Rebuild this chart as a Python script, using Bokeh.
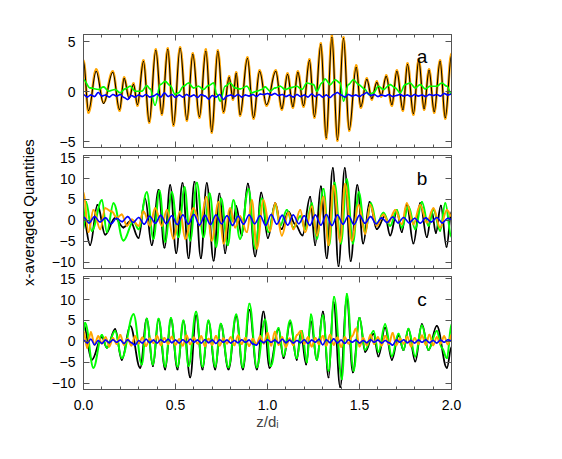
import math
from bokeh.plotting import figure
from bokeh.layouts import column, row
from bokeh.models import (Range1d, FixedTicker, LinearAxis, CustomJSTickFormatter,
                          Label, ColumnDataSource)
from bokeh.embed import file_html
from bokeh.resources import INLINE

# ---------------- data ----------------
GRID_X = [0.00, 0.02, 0.04, 0.06, 0.08, 0.10, 0.12, 0.14, 0.16, 0.18,
          0.20, 0.22, 0.24, 0.26, 0.28, 0.30, 0.32, 0.34, 0.36, 0.38,
          0.40, 0.42, 0.44, 0.46, 0.48, 0.50, 0.52, 0.54, 0.56, 0.58,
          0.60, 0.62, 0.64, 0.66, 0.68, 0.70, 0.72, 0.74, 0.76, 0.78,
          0.80, 0.82, 0.84, 0.86, 0.88, 0.90, 0.92, 0.94, 0.96, 0.98,
          1.00, 1.02, 1.04, 1.06, 1.08, 1.10, 1.12, 1.14, 1.16, 1.18,
          1.20, 1.22, 1.24, 1.26, 1.28, 1.30, 1.32, 1.34, 1.36, 1.38,
          1.40, 1.42, 1.44, 1.46, 1.48, 1.50, 1.52, 1.54, 1.56, 1.58,
          1.60, 1.62, 1.64, 1.66, 1.68, 1.70, 1.72, 1.74, 1.76, 1.78,
          1.80, 1.82, 1.84, 1.86, 1.88, 1.90, 1.92, 1.94, 1.96, 1.98,
          2.00]

GRID_B = [0.00, 0.03, 0.06, 0.09, 0.12, 0.15, 0.18, 0.21, 0.24, 0.27,
          0.30, 0.33, 0.36, 0.39, 0.42, 0.45, 0.48, 0.51, 0.54, 0.57,
          0.60, 0.63, 0.66, 0.69, 0.72, 0.75, 0.78, 0.81, 0.84, 0.87,
          0.90, 0.93, 0.96, 0.99, 1.02, 1.05, 1.08, 1.11, 1.14, 1.17,
          1.20, 1.23, 1.26, 1.29, 1.32, 1.35, 1.38, 1.41, 1.44, 1.47,
          1.50, 1.53, 1.56, 1.59, 1.62, 1.65, 1.68, 1.71, 1.74, 1.77,
          1.80, 1.83, 1.86, 1.89, 1.92, 1.95, 1.98, 2.00]

# panel a
A_OR_X = [0.000, 0.027, 0.069, 0.109, 0.159, 0.196, 0.221, 0.248, 0.272, 0.293,
          0.326, 0.357, 0.393, 0.426, 0.458, 0.489, 0.525, 0.562, 0.594, 0.630,
          0.665, 0.697, 0.730, 0.761, 0.792, 0.812, 0.830, 0.851, 0.891, 0.924,
          0.957, 0.995, 1.045, 1.078, 1.109, 1.138, 1.165, 1.196, 1.228, 1.255,
          1.290, 1.319, 1.350, 1.380, 1.413, 1.444, 1.482, 1.507, 1.540, 1.567,
          1.594, 1.618, 1.645, 1.676, 1.703, 1.736, 1.761, 1.793, 1.822, 1.851,
          1.878, 1.906, 1.938, 1.966, 2.000]
A_OR_Y = [3.1, -2.1, 2.2, -1.1, 2.0, -1.9, 1.4, -0.6, 0.8, -1.4,
          3.1, -3.1, 4.2, -2.3, 4.3, -3.4, 4.4, -2.9, 3.8, -2.6,
          4.2, -4.1, 4.1, -2.1, 1.5, -0.8, 1.9, -2.4, 3.4, -2.7,
          2.1, -1.4, 2.1, -1.8, 1.8, -1.6, 2.0, -1.5, 3.2, -2.6,
          4.8, -4.7, 5.6, -4.9, 5.4, -3.9, 2.6, -1.6, 1.3, -0.8,
          1.0, -0.5, 1.6, -1.4, 2.1, -1.9, 2.8, -2.3, 3.2, -1.8,
          2.2, -2.1, 3.1, -2.7, 3.8]
A_BK_Y = [3.0, -1.9, 2.0, -1.2, 1.9, -1.8, 1.3, -0.7, 0.7, -1.3,
          3.0, -3.0, 4.1, -2.2, 4.2, -3.3, 4.3, -2.8, 3.7, -2.5,
          4.0, -4.0, 4.0, -2.0, 1.4, -0.7, 1.8, -2.3, 3.3, -2.6,
          2.0, -1.3, 2.0, -1.7, 1.7, -1.5, 1.9, -1.4, 3.1, -2.5,
          4.7, -4.6, 5.4, -4.8, 5.3, -3.8, 2.4, -1.5, 1.2, -0.7,
          0.9, -0.4, 1.5, -1.3, 2.0, -1.8, 2.7, -2.2, 3.1, -1.7,
          2.1, -2.0, 3.0, -2.6, 3.6]
A_GR_X = [0.000, 0.036, 0.082, 0.109, 0.136, 0.172, 0.199, 0.226, 0.254, 0.281,
          0.317, 0.344, 0.362, 0.389, 0.417, 0.444, 0.471, 0.498, 0.516, 0.543,
          0.571, 0.598, 0.625, 0.652, 0.679, 0.707, 0.725, 0.743, 0.770, 0.797,
          0.824, 0.851, 0.888, 0.915, 0.942, 0.969, 0.987, 1.014, 1.042, 1.069,
          1.096, 1.123, 1.159, 1.187, 1.214, 1.250, 1.268, 1.295, 1.313, 1.341,
          1.368, 1.395, 1.413, 1.440, 1.467, 1.495, 1.531, 1.549, 1.576, 1.603,
          1.630, 1.667, 1.694, 1.721, 1.748, 1.775, 1.803, 1.830, 1.857, 1.884,
          1.920, 1.947, 1.975, 2.000]
A_GR_Y = [1.18, 0.36, 0.2, 0.46, 0.03, 0.2, -0.13, 0.26, 0.52, 0.03,
          0.03, 0.59, 0.26, -1.37, 0.69, 1.01, 0.59, -0.29, -0.13, 0.52,
          0.85, 0.36, 0.52, 0.2, 0.59, 0.85, -0.29, -0.95, 0.52, 0.85,
          0.36, 0.26, 0.52, -0.13, 0.03, 0.2, 0.46, 0.03, 0.36, 0.52,
          0.2, 0.36, 0.52, 0.2, 0.85, 0.69, 0.03, 0.85, 1.24, 0.69,
          1.18, 0.85, -0.95, 0.69, 1.18, 0.69, 0.2, -0.29, -0.13, 0.52,
          0.2, 0.69, 0.36, -0.13, 0.69, 0.85, 0.36, 0.69, 0.26, 0.52,
          0.52, 0.85, 0.52, -0.29]
A_BL_Y = [-0.30, -0.55, -0.35, -0.50, -0.10, -0.45, -0.35, -0.55, -0.30, -0.45,
          -0.30, -0.60, -0.80, -0.40, -0.55, -0.35, -0.50, -0.30, -0.55, -0.45,
          -0.25, -0.55, -0.15, -0.50, -0.30, -0.60, -0.35, -0.55, -0.30, -0.50,
          -0.35, -0.60, -0.30, -0.45, -0.75, -0.40, -0.55, -0.30, -0.80, -0.45,
          -0.35, -0.50, -0.30, -0.55, -0.35, -0.45, -0.30, -0.50, -0.25, -0.30,
          -0.20, -0.35, -0.20, -0.40, -0.30, -0.50, -0.35, -0.55, -0.30, -0.50,
          -0.35, -0.55, -0.25, -0.50, -0.30, -0.55, -0.35, -0.60, -0.30, -0.10,
          -0.35, -0.55, -0.30, -0.45, -0.35, -0.50, -0.30, -0.10, -0.40, -0.30,
          -0.50, -0.35, -0.45, -0.30, -0.50, -0.40, -0.30, -0.45, -0.35, -0.50,
          -0.30, -0.45, -0.35, -0.50, -0.30, -0.40, -0.30, -0.45, -0.20, -0.35,
          -0.25]

# panel b
B_BK_X = [0.000, 0.036, 0.076, 0.118, 0.172, 0.217, 0.254, 0.299, 0.335, 0.371,
          0.408, 0.440, 0.471, 0.504, 0.538, 0.571, 0.603, 0.638, 0.670, 0.707,
          0.739, 0.770, 0.797, 0.815, 0.830, 0.860, 0.893, 0.933, 0.966, 1.002,
          1.042, 1.076, 1.114, 1.150, 1.190, 1.232, 1.259, 1.290, 1.322, 1.355,
          1.386, 1.420, 1.452, 1.488, 1.520, 1.555, 1.594, 1.639, 1.667, 1.703,
          1.730, 1.757, 1.793, 1.830, 1.866, 1.893, 1.915, 1.942, 1.973, 2.000]
B_BK_Y = [0.6, -5.9, 3.7, -3.4, 0.6, -1.7, -0.2, -4.2, 5.2, -5.9,
          7.3, -6.5, 8.4, -7.8, 8.9, -9.0, 9.2, -9.0, 8.9, -9.6,
          6.4, -7.8, 2.5, -0.2, 3.4, -3.6, 8.8, -8.6, 6.6, -4.2,
          4.1, -2.1, 2.1, -0.9, -3.6, 5.6, -5.9, 8.1, -9.0, 12.5,
          -10.9, 12.5, -9.7, 8.4, -5.5, 4.4, -2.1, 1.0, -3.6, 2.1,
          -2.8, 3.7, -5.5, 4.1, -4.0, 2.1, -3.0, 3.5, -6.3, 2.1]
B_GR_X = [0.000, 0.014, 0.045, 0.100, 0.127, 0.163, 0.217, 0.272, 0.299, 0.344,
          0.380, 0.413, 0.444, 0.480, 0.516, 0.549, 0.580, 0.616, 0.652, 0.685,
          0.721, 0.748, 0.784, 0.815, 0.851, 0.897, 0.933, 0.969, 1.005, 1.042,
          1.069, 1.105, 1.141, 1.178, 1.205, 1.241, 1.268, 1.304, 1.335, 1.364,
          1.399, 1.431, 1.464, 1.496, 1.531, 1.562, 1.594, 1.630, 1.667, 1.703,
          1.730, 1.766, 1.803, 1.839, 1.875, 1.902, 1.938, 1.966, 2.000]
B_GR_Y = [-2.1, 4.4, -2.5, 4.8, -2.8, 4.1, -4.8, -0.2, -2.1, 6.7,
          -4.4, 7.1, -5.1, 6.7, -4.0, 7.9, -4.8, 9.0, -4.0, 6.4,
          -6.3, 5.2, -5.9, 4.8, -4.4, 7.5, -6.7, 5.2, -2.8, 3.7,
          -1.3, 2.5, -1.7, 1.0, -2.1, 4.1, -4.4, 7.5, -5.9, 9.0,
          -5.5, 9.8, -5.5, 6.7, -2.8, 4.1, -0.9, 1.8, -1.3, 2.5,
          -1.7, 3.3, -2.1, 4.4, -1.3, 2.5, -2.5, 4.1, -4.0]
B_OR_X = [0.000, 0.027, 0.054, 0.091, 0.118, 0.154, 0.181, 0.208, 0.236, 0.263,
          0.299, 0.326, 0.362, 0.389, 0.426, 0.453, 0.489, 0.525, 0.553, 0.598,
          0.634, 0.667, 0.697, 0.734, 0.761, 0.797, 0.824, 0.851, 0.888, 0.915,
          0.942, 0.978, 1.014, 1.042, 1.078, 1.114, 1.141, 1.178, 1.205, 1.241,
          1.268, 1.304, 1.332, 1.359, 1.395, 1.422, 1.458, 1.495, 1.531, 1.558,
          1.594, 1.630, 1.658, 1.694, 1.730, 1.757, 1.793, 1.830, 1.866, 1.902,
          1.938, 1.975, 2.000]
B_OR_Y = [6.7, -2.8, 2.5, -2.1, 2.9, 2.1, 0.6, 1.4, -1.3, 0.2,
          -1.3, 2.1, -1.3, 2.9, -1.3, 2.5, -4.4, 2.1, -4.4, 2.9,
          -1.3, 5.6, -4.8, 4.4, -5.5, 2.9, -1.7, 1.0, -2.8, 4.8,
          -6.7, 4.8, -2.5, 4.1, -3.6, 1.8, -2.1, 2.5, -2.8, 3.3,
          -3.6, 5.6, -5.9, 8.3, -5.1, 8.7, -4.8, 3.7, -3.2, 3.7,
          -1.3, 1.4, -0.5, 2.5, -0.9, 4.1, -0.9, 3.7, -0.5, 2.9,
          -1.7, 2.5, 1.0]
B_BL_Y = [0.8, -0.6, 0.9, -0.4, 0.6, -0.8, 0.5, -0.3, 0.9, -0.5,
          0.7, -0.9, 1.0, -0.7, 1.2, -0.8, 1.1, -1.0, 1.3, -0.9,
          1.4, -1.1, 1.2, -1.0, 1.3, -0.8, 1.1, -1.2, 1.0, -0.9,
          1.3, -0.8, 1.1, -1.2, 1.4, -0.9, 1.2, -1.1, 1.3, -0.8,
          1.1, -1.2, 1.3, -1.1, 1.4, -1.2, 1.3, -0.9, 1.1, -1.0,
          1.2, -0.7, 0.9, -0.8, 0.6, -0.5, 0.8, -0.6, 0.7, -0.6,
          0.5, -0.7, 0.6, -0.4, 0.7, -0.6, 0.5, 0.2]

# panel c
C_BK_X = [0.000, 0.045, 0.100, 0.127, 0.172, 0.208, 0.254, 0.308, 0.344, 0.377,
          0.408, 0.444, 0.475, 0.511, 0.543, 0.580, 0.612, 0.647, 0.679, 0.716,
          0.746, 0.788, 0.830, 0.866, 0.902, 0.942, 0.978, 1.011, 1.060, 1.087,
          1.123, 1.159, 1.181, 1.210, 1.236, 1.268, 1.301, 1.332, 1.359, 1.395,
          1.431, 1.464, 1.500, 1.531, 1.576, 1.603, 1.639, 1.676, 1.712, 1.739,
          1.766, 1.803, 1.839, 1.875, 1.920, 1.975, 2.000]
C_BK_Y = [4.1, -4.4, 1.0, -1.5, 2.9, -4.4, 3.7, -6.3, 5.4, -5.9,
          5.2, -6.7, 5.4, -6.7, 4.8, -8.6, 6.2, -6.7, 4.8, -6.7,
          4.1, -6.7, 6.0, -6.7, 7.5, -6.7, 7.1, -6.3, 2.9, -4.0,
          4.4, -4.4, 2.1, -5.5, 4.8, -4.4, 7.1, -8.6, 9.4, -10.9,
          10.2, -7.4, 5.6, -2.5, 1.8, -3.6, 3.3, -4.4, 1.4, -2.1,
          2.9, -4.8, 4.1, -2.1, 3.7, -6.3, -1.3]
C_GR_X = [0.000, 0.009, 0.054, 0.100, 0.127, 0.172, 0.208, 0.272, 0.317, 0.344,
          0.377, 0.408, 0.444, 0.475, 0.511, 0.543, 0.571, 0.612, 0.647, 0.679,
          0.716, 0.746, 0.788, 0.830, 0.866, 0.902, 0.942, 0.987, 1.018, 1.060,
          1.087, 1.123, 1.159, 1.187, 1.214, 1.236, 1.268, 1.301, 1.332, 1.362,
          1.404, 1.431, 1.468, 1.500, 1.531, 1.576, 1.603, 1.639, 1.676, 1.712,
          1.739, 1.766, 1.803, 1.839, 1.875, 1.920, 1.947, 1.975, 2.000]
C_GR_Y = [2.5, 4.4, -6.3, 1.5, -1.5, 2.5, -4.0, 6.5, -5.5, 5.4,
          -5.5, 5.4, -6.0, 5.6, -6.0, 5.0, -5.9, 7.1, -6.0, 5.0,
          -6.0, 4.2, -6.2, 6.4, -6.2, 9.0, -6.2, 5.2, -5.9, 3.2,
          -3.5, 5.0, -4.0, 2.5, -5.0, 6.4, -4.4, 6.2, -7.0, 10.6,
          -9.0, 11.3, -7.0, 5.6, -2.0, 2.5, -2.5, 4.1, -3.5, 1.8,
          -2.0, 3.0, -3.6, 3.8, -2.0, 2.5, -1.5, -4.0, 4.1]
C_OR_Y = [2.5, -1.5, 2.2, -0.8, 1.2, -0.5, 1.0, -1.2, 0.8, -0.6,
          1.5, -0.8, 0.6, -1.0, 1.2, -0.5, 0.9, -1.1, 0.7, -0.4,
          1.3, -0.9, 0.8, -0.6, 1.1, -0.8, 0.5, -1.0, 1.4, -0.7,
          0.9, -0.5, 1.2, -1.1, 0.6, -0.8, 1.3, -1.0, 0.7, -0.5,
          1.0, -0.9, 1.4, -0.6, 0.8, -1.1, 0.6, -0.7, 1.2, -0.5,
          2.0, -1.0, 2.3, -0.8, 1.0, -1.4, 0.7, -0.9, 1.5, 2.5,
          -0.6, 1.0, -1.2, 0.8, -0.7, 1.3, -1.0, 1.6, -0.8, 0.9,
          -1.3, 1.0, -0.5, 1.2, 3.0, -1.2, 0.8, -0.9, 1.5, -0.6,
          1.0, -1.0, 1.3, -0.7, 2.0, -0.9, 0.7, -0.5, 1.1, -1.2,
          0.8, -0.6, 1.4, -0.8, 1.6, -0.9, 1.0, -0.5, 1.2, -0.7,
          1.5]
C_BL_Y = [0.3, -0.4, 0.5, -0.8, 0.2, -0.5, 0.3, -0.3, 0.4, -0.2,
          0.3, -0.5, 0.4, -0.3, -0.9, 0.2, -0.4, 0.5, -0.3, 0.3,
          -0.4, 0.4, -0.2, 0.5, -0.3, 0.3, -0.4, 0.4, -0.3, 0.5,
          -0.2, 0.3, -0.4, 0.4, -0.3, 0.3, -0.5, 0.4, -0.2, 0.3,
          -0.4, 0.2, -0.3, 0.4, -0.2, 0.3, -0.6, -0.9, 0.2, -0.3,
          0.4, -0.2, 0.3, -0.4, 0.5, -0.3, 0.3, -0.4, 0.2, -0.3,
          0.4, -0.5, 0.3, -0.2, 0.5, -0.8, 0.4, -0.3, 0.6, -0.4,
          0.3, -0.5, 0.4, -0.2, 0.3, -0.4, 0.2, -0.3, 0.4, -0.2,
          0.3, -0.4, 0.2, -0.3, -0.9, 0.3, -0.2, 0.4, -0.3, 0.2,
          -0.4, 0.3, -0.2, 0.4, -0.3, 0.2, -0.4, 0.3, -0.2, 0.4,
          0.1]

X_TICKS = [0.0, 0.5, 1.0, 1.5, 2.0]
X_MINOR = [0.1, 0.2, 0.3, 0.4, 0.6, 0.7, 0.8, 0.9, 1.1, 1.2, 1.3, 1.4,
           1.6, 1.7, 1.8, 1.9]
A_TICKS = [-5, 0, 5]
BC_TICKS = [-10, -5, 0, 5, 10, 15]

# ---------------- styling ----------------
FONT = "Liberation Sans"
FRAME = "#555555"
ORANGE = "#FFA500"
GREEN = "#00FF00"
BLUE = "#0000FF"
TICK_FS = "14px"
TITLE_FS = "15px"


def style_axis(ax, ticks, minor, labels, fmt=None, standoff=8):
    ax.ticker = FixedTicker(ticks=ticks, minor_ticks=minor)
    ax.major_tick_in = 6
    ax.major_tick_out = 0
    ax.minor_tick_in = 3
    ax.minor_tick_out = 0
    ax.axis_line_color = FRAME
    ax.major_tick_line_color = FRAME
    ax.minor_tick_line_color = FRAME
    ax.major_label_text_font = FONT
    ax.major_label_text_color = "black"
    if labels:
        ax.major_label_text_font_size = TICK_FS
        ax.major_label_standoff = standoff
        if fmt is not None:
            ax.formatter = fmt
    else:
        ax.formatter = CustomJSTickFormatter(code="return '';")
        ax.major_label_text_font_size = "0px"
        ax.major_label_standoff = 0


def make_panel(yr, yticks, top, bottom, xlabels):
    p = figure(frame_width=368, frame_height=113,
               x_range=Range1d(0, 2), y_range=Range1d(*yr),
               output_backend="svg", toolbar_location=None,
               min_border_left=32, min_border_right=20,
               min_border_top=top, min_border_bottom=bottom,
               background_fill_color="white", border_fill_color="white")
    p.outline_line_color = FRAME
    p.outline_line_width = 1
    p.xgrid.visible = False
    p.ygrid.visible = False
    xax = p.xaxis[0]
    yax = p.yaxis[0]
    xfmt = CustomJSTickFormatter(code="return tick.toFixed(1);")
    yfmt = CustomJSTickFormatter(
        code="return tick < 0 ? '\u2212' + Math.abs(tick) : String(tick);")
    style_axis(xax, X_TICKS, X_MINOR, xlabels, xfmt, standoff=10)
    style_axis(yax, yticks, [], True, yfmt, standoff=8)
    top_ax = LinearAxis()
    style_axis(top_ax, X_TICKS, X_MINOR, False)
    p.add_layout(top_ax, "above")
    right_ax = LinearAxis()
    style_axis(right_ax, yticks, [], False)
    p.add_layout(right_ax, "right")
    return p, xax, yax


def wave(p, xs, ys, color, width):
    # smooth curve through the read extrema using Bokeh's Bezier glyph
    x0, x1 = xs[:-1], xs[1:]
    y0, y1 = ys[:-1], ys[1:]
    cx0 = [a + 0.38 * (b - a) for a, b in zip(x0, x1)]
    cx1 = [b - 0.38 * (b - a) for a, b in zip(x0, x1)]
    src = ColumnDataSource(dict(x0=x0, y0=y0, x1=x1, y1=y1,
                                cx0=cx0, cy0=y0, cx1=cx1, cy1=y1))
    p.bezier(x0="x0", y0="y0", x1="x1", y1="y1", cx0="cx0", cy0="cy0",
             cx1="cx1", cy1="cy1", source=src, line_color=color,
             line_width=width, line_cap="round")


pa, pa_x, pa_y = make_panel((-5.6, 5.7), A_TICKS, 34, 2, False)
pb, pb_x, pb_y = make_panel((-11.5, 15.5), BC_TICKS, 6, 2, False)
pc, pc_x, pc_y = make_panel((-11.5, 15.5), BC_TICKS, 6, 50, True)

# panel a
wave(pa, A_OR_X, A_OR_Y, ORANGE, 2.6)
wave(pa, A_OR_X, A_BK_Y, "black", 1.1)
wave(pa, A_GR_X, A_GR_Y, GREEN, 1.6)
wave(pa, GRID_X, A_BL_Y, BLUE, 1.6)

# panel b
wave(pb, B_BK_X, B_BK_Y, "black", 1.8)
wave(pb, B_GR_X, B_GR_Y, GREEN, 2.0)
wave(pb, B_OR_X, B_OR_Y, ORANGE, 2.0)
wave(pb, GRID_B, B_BL_Y, BLUE, 1.6)

# panel c
wave(pc, C_BK_X, C_BK_Y, "black", 1.8)
wave(pc, C_GR_X, C_GR_Y, GREEN, 2.0)
wave(pc, GRID_X, C_OR_Y, ORANGE, 2.0)
wave(pc, GRID_X, C_BL_Y, BLUE, 1.6)

for p, letter, ly in ((pa, "a", 3.5), (pb, "b", 10.0), (pc, "c", 10.0)):
    p.add_layout(Label(x=1.84, y=ly, text=letter, text_font=FONT,
                       text_font_size="19px", text_color="black",
                       text_align="center", text_baseline="alphabetic"))

pc_x.axis_label = "z/d\u1d62"
pc_x.axis_label_text_font = FONT
pc_x.axis_label_text_font_size = TITLE_FS
pc_x.axis_label_text_font_style = "normal"
pc_x.axis_label_standoff = 0

# shared y-axis title in its own narrow strip at the left
TOTAL_H = (34 + 113 + 2) + (6 + 113 + 2) + (6 + 113 + 50)
side = figure(frame_width=48, frame_height=TOTAL_H,
              x_range=Range1d(0, 1), y_range=Range1d(0, 1),
              output_backend="svg", toolbar_location=None,
              x_axis_location=None, y_axis_location=None,
              min_border_left=0, min_border_right=0,
              min_border_top=0, min_border_bottom=0,
              background_fill_color="white", border_fill_color="white")
side.outline_line_color = None
side.xgrid.visible = False
side.ygrid.visible = False
side.add_layout(Label(x=0.583, y=0.517, text="x-averaged Quantities",
                      angle=math.pi / 2, text_font=FONT, text_font_size=TITLE_FS,
                      text_color="black", text_align="center",
                      text_baseline="middle"))

layout = row(side, column(pa, pb, pc, spacing=0), spacing=0)
open("out.html", "w").write(file_html(layout, INLINE))
